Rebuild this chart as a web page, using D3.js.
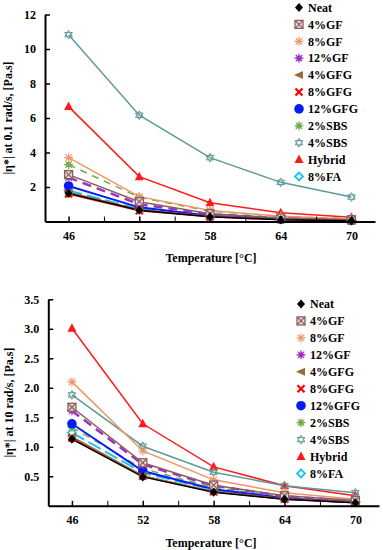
<!DOCTYPE html>
<html>
<head>
<meta charset="utf-8">
<script src="https://cdn.jsdelivr.net/npm/d3@7"></script>
<style>
  body { margin: 0; background: #fff; }
  svg text { font-family: "Liberation Serif", "Times New Roman", serif !important; font-weight: bold; fill: #000; }
</style>
</head>
<body>
<svg id="chart" width="383" height="550" font-family="Liberation Serif"></svg>
<script>
// Test temperatures (x axis)
const temps = [46, 52, 58, 64, 70];
const minorTemps = [49, 55, 61, 67];

// Series names, same order as the legend
const seriesNames = ["Neat", "4%GF", "8%GF", "12%GF", "4%GFG", "8%GFG", "12%GFG", "2%SBS", "4%SBS", "Hybrid", "8%FA"];

// |eta*| at 0.1 rad/s [Pa.s], one row per series
const eta01 = [
  [1.63, 0.65, 0.28, 0.10, 0.05],
  [2.72, 1.15, 0.45, 0.20, 0.10],
  [3.70, 1.44, 0.64, 0.30, 0.15],
  [2.55, 1.00, 0.42, 0.19, 0.09],
  [1.70, 0.68, 0.30, 0.12, 0.06],
  [1.60, 0.62, 0.27, 0.11, 0.05],
  [2.06, 0.82, 0.33, 0.14, 0.07],
  [3.30, 1.40, 0.60, 0.30, 0.16],
  [10.83, 6.16, 3.70, 2.27, 1.42],
  [6.66, 2.60, 1.09, 0.51, 0.24],
  [1.80, 0.72, 0.31, 0.13, 0.06]
];

// |eta*| at 10 rad/s [Pa.s]
const eta10 = [
  [1.13, 0.49, 0.23, 0.11, 0.05],
  [1.67, 0.73, 0.35, 0.17, 0.09],
  [2.10, 0.93, 0.44, 0.22, 0.11],
  [1.61, 0.70, 0.34, 0.16, 0.08],
  [1.17, 0.51, 0.24, 0.12, 0.06],
  [1.15, 0.50, 0.24, 0.11, 0.05],
  [1.39, 0.59, 0.28, 0.13, 0.06],
  [1.33, 0.63, 0.31, 0.15, 0.08],
  [1.88, 1.01, 0.57, 0.34, 0.22],
  [3.01, 1.39, 0.66, 0.34, 0.17],
  [1.24, 0.56, 0.27, 0.13, 0.06]
];

const yTicks01 = [2, 4, 6, 8, 10, 12];
const yTicks10 = [0.5, 1.0, 1.5, 2.0, 2.5, 3.0, 3.5];

// Look of each series (colour, dash, marker)
const styles = [
  {color: "#000000", width: 1.5, dash: null, marker: "diamond"},
  {color: "#8b5e5e", width: 1.5, dash: null, marker: "squareX"},
  {color: "#ef9468", width: 1.5, dash: null, marker: "asterisk"},
  {color: "#9b30c8", width: 2.5, dash: "9,6", marker: "burst"},
  {color: "#9a6a3a", width: 1.5, dash: null, marker: "triLeft"},
  {color: "#ff0000", width: 1.5, dash: null, marker: "cross"},
  {color: "#0a1cf5", width: 2, dash: null, marker: "circle"},
  {color: "#74ac4c", width: 1.5, dash: "7,6", marker: "burst"},
  {color: "#5f9a97", width: 1.5, dash: null, marker: "hexagram"},
  {color: "#ff1a1a", width: 1.5, dash: null, marker: "triUp"},
  {color: "#19c3f0", width: 2, dash: "14,5", marker: "diamondOpen"}
];

const FONT = '"Liberation Serif", "Times New Roman", serif';
const svg = d3.select("#chart");

// draw one marker shape centred on (0,0) inside g
function drawMarker(g, type, color) {
  const r = 4;
  if (type === "diamond") {
    g.append("path").attr("d", `M0,${-r-0.5}L${r},0L0,${r+0.5}L${-r},0Z`).attr("fill", color);
  } else if (type === "diamondOpen") {
    g.append("path").attr("d", `M0,${-r}L${r},0L0,${r}L${-r},0Z`)
      .attr("fill", "#fff").attr("stroke", color).attr("stroke-width", 1.8);
  } else if (type === "squareX") {
    g.append("rect").attr("x", -r).attr("y", -r).attr("width", 2*r).attr("height", 2*r)
      .attr("fill", "#e8d8d8").attr("stroke", color).attr("stroke-width", 1.3);
    g.append("path").attr("d", `M${-r},${-r}L${r},${r}M${r},${-r}L${-r},${r}`)
      .attr("stroke", color).attr("stroke-width", 1.2);
  } else if (type === "asterisk" || type === "burst") {
    const a = r + 0.5, d = a * 0.72;
    g.append("path").attr("d", `M${-a},0L${a},0M0,${-a}L0,${a}M${-d},${-d}L${d},${d}M${d},${-d}L${-d},${d}`)
      .attr("stroke", color).attr("stroke-width", 1.2);
    if (type === "burst") g.append("circle").attr("r", 2.6).attr("fill", color);
  } else if (type === "triLeft") {
    g.append("path").attr("d", `M${-r-1},0L${r},${-r}L${r},${r}Z`).attr("fill", color);
  } else if (type === "triUp") {
    g.append("path").attr("d", `M0,${-r-1}L${r+0.5},${r-0.5}L${-r-0.5},${r-0.5}Z`).attr("fill", color);
  } else if (type === "cross") {
    g.append("path").attr("d", `M${-r+0.5},${-r+0.5}L${r-0.5},${r-0.5}M${r-0.5},${-r+0.5}L${-r+0.5},${r-0.5}`)
      .attr("stroke", color).attr("stroke-width", 2.3);
  } else if (type === "circle") {
    g.append("circle").attr("r", r + 0.8).attr("fill", color);
  } else if (type === "hexagram") {
    const pts = a0 => d3.range(3).map(i => {
      const t = (a0 + i * 120) * Math.PI / 180;
      return [r * 1.1 * Math.cos(t), r * 1.1 * Math.sin(t)];
    });
    [-90, 90].forEach(a0 => {
      g.append("path").attr("d", "M" + pts(a0).join("L") + "Z")
        .attr("fill", "none").attr("stroke", color).attr("stroke-width", 1);
    });
  }
}

// One panel = one chart with its own axes and legend
function drawPanel(p) {
  const x = d3.scaleLinear().domain([44, 72]).range([p.left, p.right]);
  const y = d3.scaleLinear().domain([0, p.yMax]).range([p.bottom, p.top]);

  const line = d3.line()
      .x((d, i) => x(temps[i]))
      .y(d => y(d));

  // series drawn back to front so Neat sits on top
  const order = d3.range(seriesNames.length).reverse();
  order.forEach(k => {
    const st = styles[k];
    svg.append("path")
      .datum(p.data[k])
      .attr("d", line)
      .attr("fill", "none")
      .attr("stroke", st.color)
      .attr("stroke-width", st.width)
      .attr("stroke-dasharray", st.dash);
  });
  order.forEach(k => {
    p.data[k].forEach((v, i) => {
      const g = svg.append("g").attr("transform", `translate(${x(temps[i])},${y(v)})`);
      drawMarker(g, styles[k].marker, styles[k].color);
    });
  });

  // x axis with inward ticks
  const xAxis = svg.append("g")
      .attr("transform", `translate(0,${p.bottom})`)
      .call(d3.axisBottom(x).tickValues(temps).tickFormat(d3.format("d"))
        .tickSize(-5).tickSizeOuter(0).tickPadding(10));
  svg.append("g")
      .attr("transform", `translate(0,${p.bottom})`)
      .call(d3.axisBottom(x).tickValues(minorTemps).tickFormat("").tickSize(-5).tickSizeOuter(0))
      .select(".domain").remove();

  // y axis
  const yAxis = svg.append("g")
      .attr("transform", `translate(${p.left},0)`)
      .call(d3.axisLeft(y).tickValues(p.yTicks).tickFormat(p.fmt)
        .tickSize(-5).tickSizeOuter(0).tickPadding(9));

  [xAxis, yAxis].forEach(a => {
    a.attr("font-family", FONT);
    a.select(".domain").attr("stroke-width", 2);
    a.selectAll(".tick line").attr("stroke-width", 1.5);
    a.selectAll("text").style("font-size", "12px").style("font-family", FONT);
  });
  svg.selectAll(".tick line").attr("stroke", "#000");

  // axis titles
  svg.append("text")
      .attr("x", 211).attr("y", p.xTitleY)
      .attr("text-anchor", "middle")
      .style("font-size", "12px")
      .style("font-family", FONT)
      .text("Temperature [°C]");
  svg.append("text")
      .attr("transform", `translate(${p.yTitleX},${(p.top + p.bottom) / 2}) rotate(-90)`)
      .attr("text-anchor", "middle")
      .style("font-size", "12px")
      .style("font-family", FONT)
      .text(p.yTitle);

  // legend
  seriesNames.forEach((name, k) => {
    const ly = p.legendY + k * p.legendStep;
    const g = svg.append("g").attr("transform", `translate(${p.legendX},${ly})`);
    drawMarker(g, styles[k].marker, styles[k].color);
    svg.append("text")
        .attr("x", p.legendX + 9).attr("y", ly)
        .attr("dy", "0.35em")
        .style("font-size", "12px")
        .style("font-family", FONT)
        .text(name);
  });
}

drawPanel({
  data: eta01, yMax: 12, yTicks: yTicks01, fmt: d3.format("d"),
  left: 45, right: 375, top: 14.5, bottom: 221.5,
  xTitleY: 262, yTitleX: 12,
  yTitle: "|η*| at 0.1 rad/s, [Pa.s]",
  legendX: 299, legendY: 7.5, legendStep: 16.9
});

drawPanel({
  data: eta10, yMax: 3.5, yTicks: yTicks10, fmt: d3.format(".1f"),
  left: 48.3, right: 379, top: 299.3, bottom: 505.8,
  xTitleY: 547, yTitleX: 13,
  yTitle: "|η*| at 10 rad/s, [Pa.s]",
  legendX: 301, legendY: 304, legendStep: 16.95
});
</script>
</body>
</html>
